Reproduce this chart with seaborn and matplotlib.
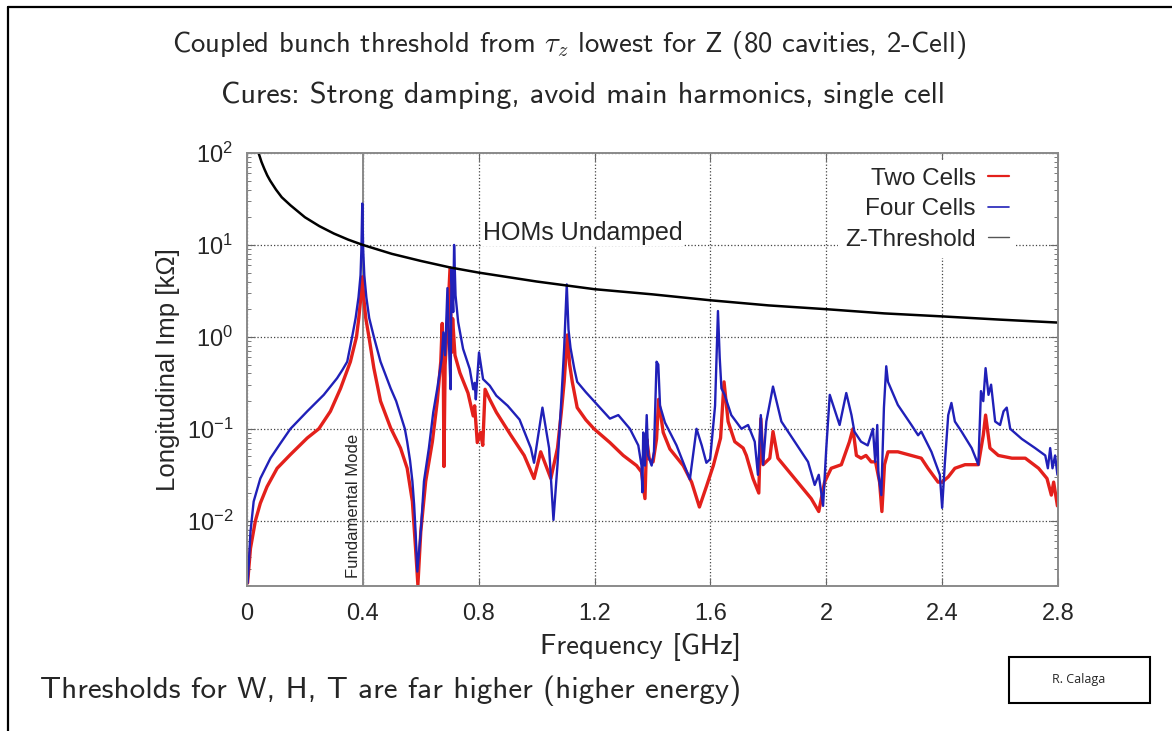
import matplotlib
matplotlib.use("Agg")
import matplotlib.pyplot as plt
from matplotlib.lines import Line2D
from matplotlib.patches import Rectangle
import pandas as pd
import seaborn as sns

# Frequency [GHz] / impedance [kOhm]
two_f = [0.002, 0.012, 0.029, 0.046, 0.069, 0.104, 0.15, 0.208, 0.248, 0.288, 0.323, 0.357, 0.378,
         0.386, 0.392, 0.398, 0.404, 0.41, 0.421, 0.438, 0.461, 0.496, 0.53, 0.553, 0.571, 0.582,
         0.59, 0.6, 0.617, 0.64, 0.657, 0.669, 0.674, 0.678, 0.68, 0.684, 0.692, 0.701, 0.706, 0.71,
         0.718, 0.735, 0.763, 0.781, 0.786, 0.795, 0.806, 0.814, 0.822, 0.838, 0.861, 0.911, 0.957,
         0.991, 1.014, 1.049, 1.072, 1.085, 1.095, 1.106, 1.114, 1.123, 1.14, 1.17, 1.198, 1.253,
         1.299, 1.345, 1.362, 1.374, 1.38, 1.389, 1.402, 1.414, 1.421, 1.437, 1.46, 1.506, 1.535,
         1.562, 1.587, 1.61, 1.635, 1.647, 1.661, 1.684, 1.713, 1.724, 1.747, 1.767, 1.774, 1.782,
         1.805, 1.816, 1.833, 1.891, 1.948, 1.974, 1.994, 2.017, 2.052, 2.08, 2.092, 2.104, 2.12,
         2.137, 2.155, 2.17, 2.184, 2.192, 2.201, 2.213, 2.247, 2.294, 2.328, 2.351, 2.386, 2.4,
         2.421, 2.444, 2.479, 2.525, 2.542, 2.55, 2.565, 2.594, 2.641, 2.687, 2.733, 2.762, 2.777,
         2.785, 2.798]
two_z = [0.0021, 0.005, 0.01, 0.0155, 0.0234, 0.0372, 0.0525, 0.0794, 0.1, 0.155, 0.275, 0.537, 1.0,
         1.6, 2.5, 4.5, 2.5, 1.6, 1.0, 0.457, 0.2, 0.102, 0.0617, 0.0372, 0.0162, 0.005,
         0.002, 0.0076, 0.0269, 0.0724, 0.2, 0.537, 1.4, 0.347, 0.0389, 0.49, 1.45, 5.62, 0.676, 1.58,
         0.631, 0.407, 0.245, 0.138, 0.178, 0.0708, 0.0912, 0.066, 0.269, 0.209, 0.151, 0.0851, 0.0513,
         0.0288, 0.0562, 0.0288, 0.0617, 0.15, 0.324, 1.05, 0.5, 0.324, 0.17, 0.125, 0.1, 0.0708,
         0.0513, 0.0398, 0.0339, 0.0174, 0.0776, 0.0468, 0.0437, 0.0776, 0.209, 0.0912, 0.0603, 0.0398, 0.0263,
         0.0141, 0.024, 0.0398, 0.0794, 0.324, 0.12, 0.0724, 0.0617, 0.0513, 0.0288, 0.02, 0.129, 0.0407,
         0.0479, 0.0933, 0.0479, 0.0288, 0.0174, 0.0126, 0.0263, 0.0372, 0.0407, 0.0724, 0.1, 0.0513, 0.0479,
         0.0513, 0.0437, 0.0437, 0.0263, 0.0126, 0.0407, 0.0562, 0.0562, 0.0513, 0.0479, 0.0372, 0.0263, 0.0263,
         0.030, 0.0372, 0.0407, 0.0407, 0.0851, 0.141, 0.0617, 0.0513, 0.0479, 0.0479, 0.0372, 0.0288, 0.019,
         0.0263, 0.0145]

four_f = [0.002, 0.006, 0.012, 0.023, 0.046, 0.081, 0.115, 0.15, 0.208, 0.265, 0.311, 0.33, 0.346,
          0.363, 0.375, 0.385, 0.392, 0.395, 0.398, 0.401, 0.405, 0.412, 0.422, 0.438, 0.461, 0.496,
          0.515, 0.53, 0.545, 0.553, 0.563, 0.571, 0.577, 0.582, 0.588, 0.6, 0.611, 0.628, 0.643,
          0.657, 0.672, 0.678, 0.684, 0.692, 0.699, 0.703, 0.706, 0.712, 0.715, 0.72, 0.729, 0.746,
          0.769, 0.781, 0.786, 0.79, 0.801, 0.815, 0.838, 0.861, 0.9, 0.941, 0.98, 0.991, 1.02,
          1.043, 1.058, 1.072, 1.085, 1.095, 1.104, 1.11, 1.117, 1.13, 1.14, 1.17, 1.198, 1.253,
          1.282, 1.322, 1.351, 1.362, 1.365, 1.368, 1.374, 1.38, 1.385, 1.397, 1.405, 1.414, 1.42,
          1.426, 1.443, 1.483, 1.529, 1.552, 1.57, 1.586, 1.599, 1.616, 1.626, 1.632, 1.638, 1.649,
          1.672, 1.707, 1.73, 1.753, 1.764, 1.774, 1.782, 1.793, 1.816, 1.845, 1.891, 1.937, 1.96,
          1.974, 1.989, 2.0, 2.012, 2.046, 2.069, 2.087, 2.097, 2.12, 2.143, 2.161, 2.169, 2.176,
          2.18, 2.19, 2.199, 2.207, 2.213, 2.247, 2.294, 2.317, 2.328, 2.363, 2.392, 2.4, 2.409,
          2.421, 2.432, 2.444, 2.467, 2.502, 2.525, 2.534, 2.542, 2.55, 2.56, 2.569, 2.583, 2.6,
          2.612, 2.623, 2.635, 2.675, 2.721, 2.756, 2.765, 2.773, 2.781, 2.79, 2.798]
four_z = [0.0021, 0.0033, 0.0076, 0.0162, 0.0288, 0.0479, 0.0692, 0.1, 0.155, 0.234, 0.355, 0.44, 0.537,
          1.0, 1.6, 2.7, 4.68, 9.0, 28.2, 9.0, 4.68, 2.7, 1.6, 1.0, 0.537, 0.275,
          0.2, 0.141, 0.1, 0.0724, 0.045, 0.0269, 0.015, 0.0076, 0.0028, 0.0076, 0.0269, 0.0617, 0.151,
          0.275, 0.575, 1.12, 0.631, 3.39, 0.575, 0.269, 5.5, 1.86, 10.0, 2.82, 1.45, 0.741,
          0.447, 0.269, 0.316, 0.209, 0.676, 0.347, 0.295, 0.229, 0.178, 0.126, 0.0617, 0.0427, 0.17,
          0.0617, 0.0102, 0.0407, 0.2, 0.759, 3.72, 1.2, 0.759, 0.45, 0.324, 0.25, 0.2, 0.129,
          0.141, 0.1, 0.066, 0.0398, 0.0204, 0.0912, 0.0398, 0.141, 0.0513, 0.0398, 0.0562, 0.537, 0.5,
          0.178, 0.117, 0.066, 0.0282, 0.1, 0.066, 0.0427, 0.0468, 0.178, 1.91, 0.6, 0.275, 0.234,
          0.141, 0.1, 0.11, 0.0724, 0.0316, 0.141, 0.0407, 0.12, 0.288, 0.12, 0.0724, 0.0437, 0.0245,
          0.0316, 0.0145, 0.0617, 0.234, 0.11, 0.245, 0.141, 0.0933, 0.0724, 0.066, 0.1, 0.0437, 0.11,
          0.0316, 0.019, 0.17, 0.479, 0.324, 0.182, 0.11, 0.0851, 0.0933, 0.0562, 0.0316, 0.0138, 0.0407,
          0.141, 0.191, 0.12, 0.0933, 0.0617, 0.0407, 0.257, 0.2, 0.457, 0.234, 0.302, 0.12, 0.11,
          0.155, 0.17, 0.1, 0.0776, 0.0617, 0.0513, 0.0372, 0.0617, 0.0372, 0.0513, 0.0316]

thr_f = [0.036, 0.04, 0.05, 0.06, 0.07, 0.08, 0.1, 0.12, 0.15, 0.2, 0.25, 0.3, 0.35, 0.4, 0.5, 0.6,
         0.7, 0.8, 1.0, 1.2, 1.4, 1.6, 1.8, 2.0, 2.2, 2.4, 2.6, 2.8]
thr_z = [111, 100, 80, 67, 57, 50, 40, 33, 27, 20, 16, 13.3, 11.4, 10, 8, 6.7,
         5.7, 5, 4, 3.3, 2.9, 2.5, 2.2, 2.0, 1.8, 1.67, 1.54, 1.43]

x_ticks = [0, 0.4, 0.8, 1.2, 1.6, 2.0, 2.4, 2.8]
x_tick_labels = ["0", "0.4", "0.8", "1.2", "1.6", "2", "2.4", "2.8"]
y_ticks = [1e-2, 1e-1, 1e0, 1e1, 1e2]
y_tick_labels = [r"$\mathregular{10^{-2}}$", r"$\mathregular{10^{-1}}$", r"$\mathregular{10^{0}}$",
                 r"$\mathregular{10^{1}}$", r"$\mathregular{10^{2}}$"]

RED = "#e3201b"
BLUE = "#2020b8"

sns.set_style("ticks")
plt.rcParams["font.family"] = ["Liberation Sans", "DejaVu Sans"]
plt.rcParams["mathtext.fontset"] = "cm"
SLIDE = ["cmss10", "DejaVu Sans"]

df_two = pd.DataFrame({"f": two_f, "z": two_z})
df_four = pd.DataFrame({"f": four_f, "z": four_z})
df_thr = pd.DataFrame({"f": thr_f, "z": thr_z})

fig = plt.figure(figsize=(11.72, 7.31), dpi=100)
ax = fig.add_axes([247 / 1172, 1 - 586 / 731, 811 / 1172, 433 / 731])

ax.set_yscale("log")
ax.set_xlim(0, 2.8)
ax.set_ylim(0.00195, 100)

ax.grid(True, which="major", ls=":", color="#444444", lw=0.9)
ax.axvline(0.4, color="#8a8a8a", lw=1.4, zorder=1.5)

sns.lineplot(data=df_two, x="f", y="z", ax=ax, color=RED, lw=2.4, sort=False, estimator=None)
sns.lineplot(data=df_four, x="f", y="z", ax=ax, color=BLUE, lw=1.7, sort=False, estimator=None)
sns.lineplot(data=df_thr, x="f", y="z", ax=ax, color="black", lw=1.8, sort=False, estimator=None)

ax.set_xticks(x_ticks)
ax.set_xticklabels(x_tick_labels)
ax.set_yticks(y_ticks)
ax.set_yticklabels(y_tick_labels)
ax.tick_params(axis="both", which="major", direction="in", labelsize=17, top=True, right=True,
               length=6, width=0.8, color="#666666")
ax.tick_params(axis="y", which="minor", direction="in", left=True, right=True, length=3, color="#666666")
ax.tick_params(axis="x", pad=12)
ax.tick_params(axis="y", pad=10)
for s in ax.spines.values():
    s.set_color("#8a8a8a")
    s.set_linewidth(1.4)

ax.set_xlabel("")
ax.set_ylabel("Longitudinal Imp [k\u03a9]", fontsize=18.5)
ax.yaxis.set_label_coords(-0.082, 0.5)

ax.text(1.16, 13.5, "HOMs Undamped", fontsize=18, ha="center", va="center",
        bbox=dict(facecolor="white", edgecolor="none", pad=1))
ax.text(0.393, 0.0024, "Fundamental Mode", fontsize=12, rotation=90, ha="right", va="bottom")

handles = [Line2D([], [], color=RED, lw=1.6), Line2D([], [], color=BLUE, lw=1.2),
           Line2D([], [], color="#555555", lw=1.0)]
leg = ax.legend(handles, ["Two Cells", "Four Cells", "Z-Threshold"], loc="upper right",
                bbox_to_anchor=(0.963, 1.011), markerfirst=False, fontsize=17.5, frameon=True,
                framealpha=1, edgecolor="none", fancybox=False, handlelength=0.85,
                labelspacing=0.35, borderpad=0.3, handletextpad=0.5)
leg.get_frame().set_linewidth(0)

# slide texts
fig.text(569 / 1172, 1 - 45 / 731, r"Coupled bunch threshold from $\tau_z$ lowest for Z (80 cavities, 2-Cell)",
         family=SLIDE, fontsize=20.7, ha="center", va="center")
fig.text(583 / 1172, 1 - 95 / 731, "Cures: Strong damping, avoid main harmonics, single cell",
         family=SLIDE, fontsize=21.8, ha="center", va="center")
fig.text(641 / 1172, 1 - 647 / 731, "Frequency [GHz]", family=SLIDE, fontsize=20.8,
         ha="center", va="center")
fig.text(40 / 1172, 1 - 691 / 731, "Thresholds for W, H, T are far higher (higher energy)",
         family=SLIDE, fontsize=22.4, ha="left", va="center")

fig.add_artist(Rectangle((1009 / 1172, 1 - 703 / 731), 141 / 1172, 46 / 731,
                         transform=fig.transFigure, facecolor="white", edgecolor="black", lw=1.5))
fig.text(1079 / 1172, 1 - 680 / 731, "R. Calaga", family=["Open Sans", "DejaVu Sans"],
         fontsize=9, ha="center", va="center")

fig.add_artist(Line2D([8 / 1172, 1], [1 - 7 / 731, 1 - 7 / 731], transform=fig.transFigure,
                      color="black", lw=1.6))
fig.add_artist(Line2D([8 / 1172, 8 / 1172], [0, 1 - 7 / 731], transform=fig.transFigure,
                      color="black", lw=1.6))

fig.savefig("out.png", dpi=100)
